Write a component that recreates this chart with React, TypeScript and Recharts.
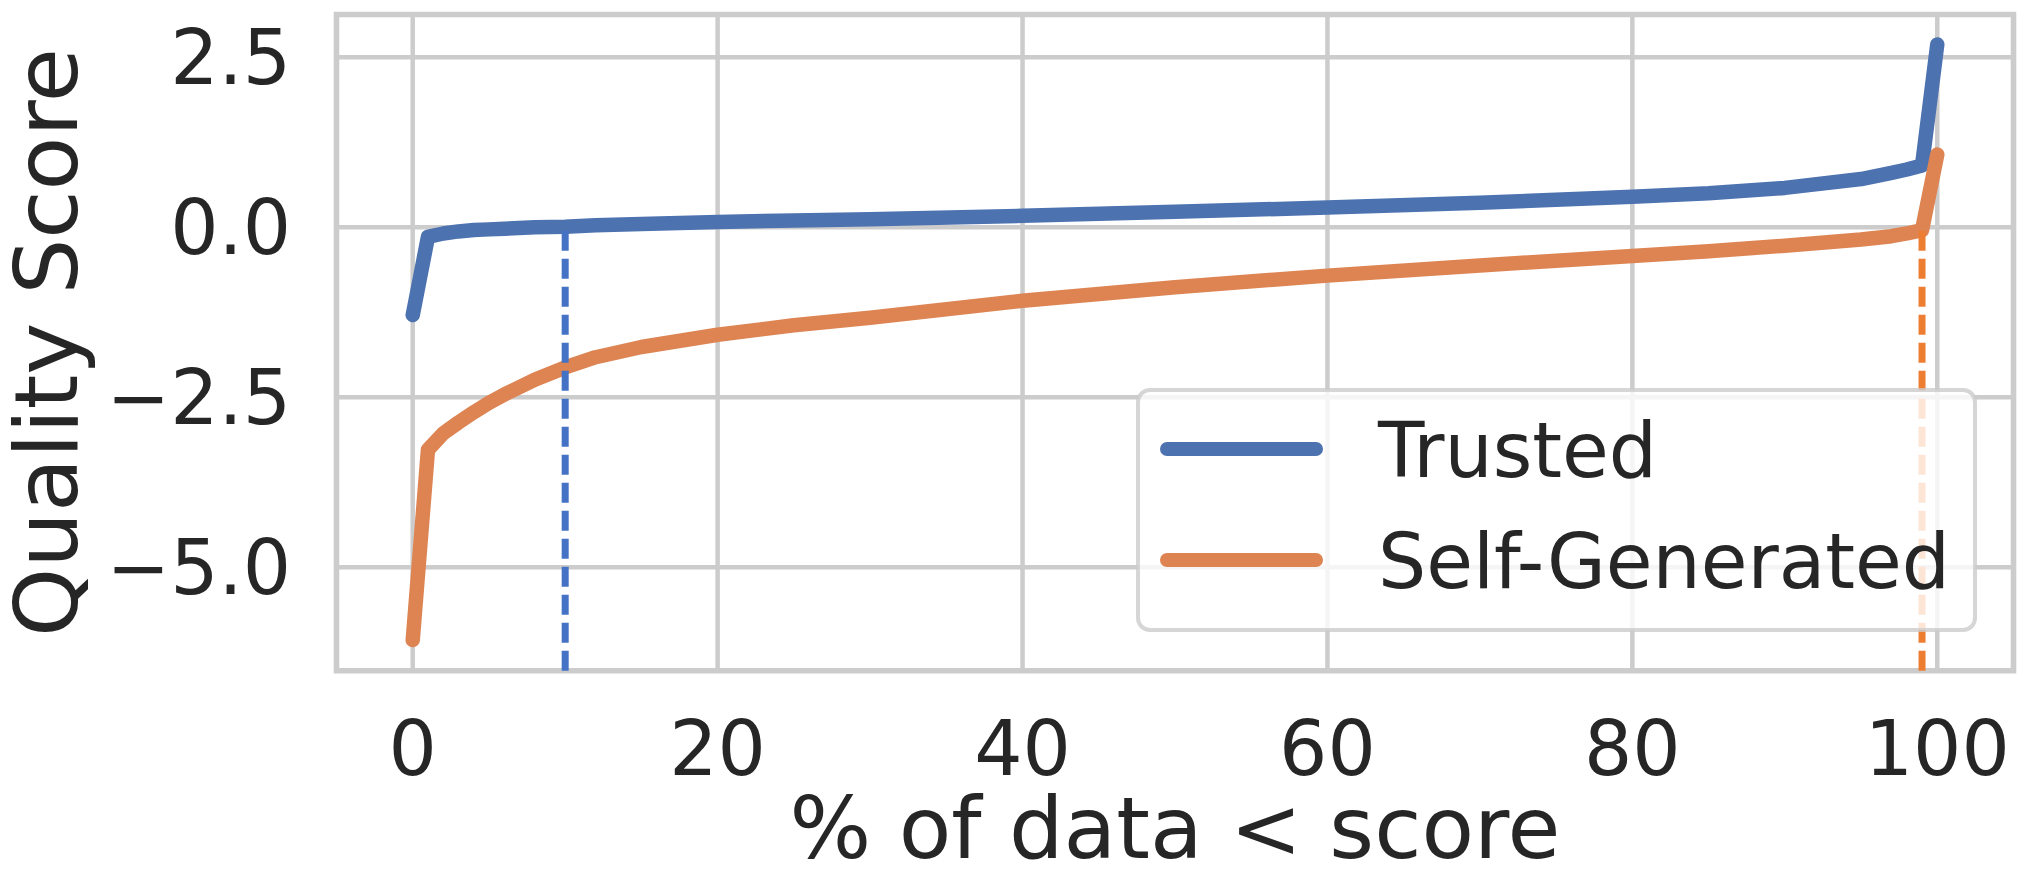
import {LineChart, Line, XAxis, YAxis, CartesianGrid, ReferenceLine, ReferenceArea, Legend} from 'recharts';

import type {ReactElement} from 'react';

// values
const percentiles = [0, 1, 2, 3, 4, 5, 6, 8, 10, 12, 15, 20, 25, 30, 40, 50, 60, 70, 80, 85, 90, 95, 97, 98, 99, 100];
const trustedScores = [
	-1.29, -0.14, -0.09, -0.06, -0.04, -0.03, -0.02, 0.0, 0.01, 0.03, 0.05, 0.08, 0.1, 0.12, 0.17, 0.23, 0.29, 0.36,
	0.45, 0.5, 0.58, 0.71, 0.8, 0.85, 0.91, 2.69
];
const selfGeneratedScores = [
	-6.07, -3.27, -3.03, -2.87, -2.72, -2.58, -2.46, -2.24, -2.06, -1.91, -1.76, -1.58, -1.44, -1.33, -1.08, -0.88,
	-0.71, -0.56, -0.42, -0.35, -0.27, -0.18, -0.13, -0.09, -0.04, 1.07
];
const seriesNames = ['Trusted', 'Self-Generated'];
const xTicks = [0, 20, 40, 60, 80, 100];
const yTicks = [-5, -2.5, 0, 2.5];
const xDomain = [-5, 105];
const yDomain = [-6.52, 3.13];
// dashed cut-off markers: percentile and the score the marker reaches up to
const trustedCutoff = {x: 10, y: 0.01};
const selfGeneratedCutoff = {x: 99, y: -0.04};

const chartData = percentiles.map((p, i) => ({
	pct: p,
	trusted: trustedScores[i],
	selfGenerated: selfGeneratedScores[i]
}));

const WIDTH = 2024;
const HEIGHT = 884;
const Y_AXIS_WIDTH = 336.5;
const X_AXIS_HEIGHT = 213.3;
const MARGIN = {top: 14.5, right: 10.5, left: 0, bottom: 0};
const FONT = '"DejaVu Sans", Verdana, sans-serif';
const TEXT = '#262626';
const GRID = '#cccccc';
const BLUE = '#4c72b0';
const ORANGE = '#dd8452';

const plotTop = MARGIN.top;
const plotBottom = HEIGHT - X_AXIS_HEIGHT;
const plotLeft = Y_AXIS_WIDTH;
const plotRight = WIDTH - MARGIN.right;

function formatY(v: number): string {
	const s = Math.abs(v).toFixed(1);
	return v < 0 ? `\u2212${s}` : s;
}

function YTitle(): ReactElement {
	const cx = 77;
	const cy = (plotTop + plotBottom) / 2;
	return (
		<text
			x={cx}
			y={cy}
			transform={`rotate(-90 ${cx} ${cy})`}
			textAnchor={'middle'}
			fontFamily={FONT}
			fontSize={88}
			fill={TEXT}>
			{'Quality Score'}
		</text>
	);
}

function XTitle(): ReactElement {
	return (
		<text
			x={(plotLeft + plotRight) / 2}
			y={858}
			textAnchor={'middle'}
			fontFamily={FONT}
			fontSize={86}
			fill={TEXT}
			style={{whiteSpace: 'pre'}}>
			{'% of data < score'}
		</text>
	);
}

function LegendBox({payload}: {payload?: any[]}): ReactElement {
	// keep the plotting order, not the alphabetical one
	const rows = [...(payload || [])].sort((a, b) => seriesNames.indexOf(a.value) - seriesNames.indexOf(b.value));
	return (
		<svg width={841} height={244} style={{display: 'block', overflow: 'visible'}}>
			<rect
				x={2}
				y={2}
				width={837}
				height={240}
				rx={12}
				fill={'#ffffff'}
				fillOpacity={0.8}
				stroke={GRID}
				strokeOpacity={0.8}
				strokeWidth={4}
			/>
			{rows.map((entry, i) => {
				const cy = 61 + i * 111;
				return (
					<g key={entry.value}>
						<line x1={31} x2={180} y1={cy} y2={cy} stroke={entry.color} strokeWidth={14} strokeLinecap={'round'} />
						<text x={242} y={cy + 27.7} fontFamily={FONT} fontSize={76} fill={TEXT}>
							{entry.value}
						</text>
					</g>
				);
			})}
		</svg>
	);
}

function App(): ReactElement {
	return (
		<div style={{position: 'absolute', left: 0, top: 0, width: WIDTH, height: HEIGHT, background: '#ffffff'}}>
			<LineChart width={WIDTH} height={HEIGHT} data={chartData} margin={MARGIN}>
				<CartesianGrid stroke={GRID} strokeWidth={4.5} />
				<XAxis
					dataKey={'pct'}
					type={'number'}
					domain={xDomain}
					ticks={xTicks}
					allowDataOverflow
					height={X_AXIS_HEIGHT}
					axisLine={false}
					tickLine={false}
					tickSize={0}
					tickMargin={50}
					interval={0}
					tick={{fontSize: 76, fontFamily: FONT, fill: TEXT}}
					label={<XTitle />}
				/>
				<YAxis
					type={'number'}
					domain={yDomain}
					ticks={yTicks}
					allowDataOverflow
					width={Y_AXIS_WIDTH}
					axisLine={false}
					tickLine={false}
					tickSize={0}
					tickMargin={45.5}
					interval={0}
					tickFormatter={formatY}
					tick={{fontSize: 76, fontFamily: FONT, fill: TEXT}}
					label={<YTitle />}
				/>
				<ReferenceArea
					x1={xDomain[0]}
					x2={xDomain[1]}
					y1={yDomain[0]}
					y2={yDomain[1]}
					fill={'none'}
					stroke={GRID}
					strokeWidth={5.6}
					ifOverflow={'visible'}
				/>
				<Line
					type={'linear'}
					dataKey={'trusted'}
					name={seriesNames[0]}
					stroke={BLUE}
					strokeWidth={14.5}
					strokeLinecap={'round'}
					strokeLinejoin={'round'}
					dot={false}
					activeDot={false}
					isAnimationActive={false}
				/>
				<Line
					type={'linear'}
					dataKey={'selfGenerated'}
					name={seriesNames[1]}
					stroke={ORANGE}
					strokeWidth={14.5}
					strokeLinecap={'round'}
					strokeLinejoin={'round'}
					dot={false}
					activeDot={false}
					isAnimationActive={false}
				/>
				<ReferenceLine
					segment={[
						{x: trustedCutoff.x, y: yDomain[0]},
						{x: trustedCutoff.x, y: trustedCutoff.y}
					]}
					stroke={'#4472c4'}
					strokeWidth={7}
					strokeDasharray={'20 8'}
					ifOverflow={'visible'}
				/>
				<ReferenceLine
					segment={[
						{x: selfGeneratedCutoff.x, y: yDomain[0]},
						{x: selfGeneratedCutoff.x, y: selfGeneratedCutoff.y}
					]}
					stroke={'#ed7d31'}
					strokeWidth={7}
					strokeDasharray={'20 8'}
					ifOverflow={'visible'}
				/>
				<Legend
					layout={'vertical'}
					align={'center'}
					verticalAlign={'middle'}
					content={<LegendBox />}
					wrapperStyle={{position: 'absolute', left: 1136, top: 388, width: 841, height: 244, margin: 0}}
				/>
			</LineChart>
		</div>
	);
}

export default App;
